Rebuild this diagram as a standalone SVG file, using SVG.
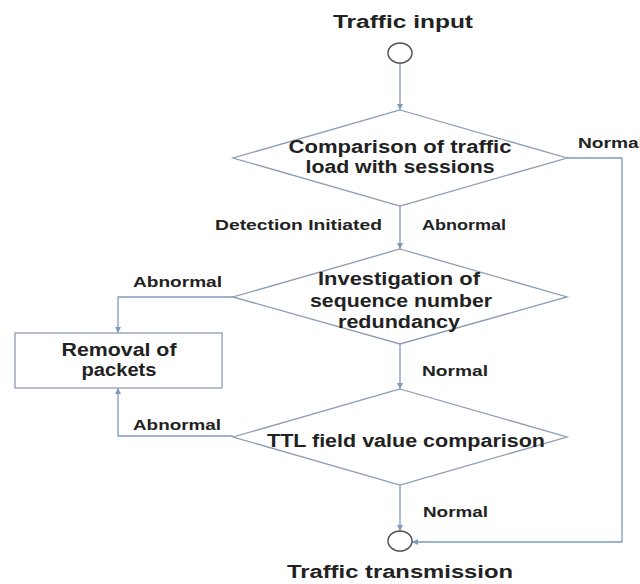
<svg xmlns="http://www.w3.org/2000/svg" width="640" height="584" viewBox="0 0 640 584">
<style>
.t{font-family:"Liberation Sans",Arial,sans-serif;font-weight:bold;fill:#222;}
.big{font-size:18px;text-anchor:middle;}
.lbl{font-size:14px;}
.shape{fill:#fff;stroke:#8c9cb2;stroke-width:1.3;}
.circ{fill:#fff;stroke:#555;stroke-width:1.5;}
.conn{fill:none;stroke:#7f9abd;stroke-width:1.3;}
</style>
<defs>
<marker id="arr" markerWidth="6" markerHeight="6" refX="6" refY="3" orient="auto" markerUnits="userSpaceOnUse">
<path d="M0,0 L6,3 L0,6 z" fill="#7f9abd"/>
</marker>
</defs>
<rect width="640" height="584" fill="#fff"/>
<g id="connectors">
<line class="conn" x1="400" y1="63" x2="400" y2="110" marker-end="url(#arr)"/>
<line class="conn" x1="400" y1="206" x2="400" y2="249" marker-end="url(#arr)"/>
<line class="conn" x1="400" y1="344" x2="400" y2="389" marker-end="url(#arr)"/>
<line class="conn" x1="400" y1="485" x2="400" y2="531" marker-end="url(#arr)"/>
<polyline class="conn" points="233,297 118,297 118,333" marker-end="url(#arr)"/>
<polyline class="conn" points="233,436 118,436 118,388" marker-end="url(#arr)"/>
<polyline class="conn" points="567,158 622,158 622,542 412,542" marker-end="url(#arr)"/>
<text class="t lbl" x="578" y="148" textLength="66" lengthAdjust="spacingAndGlyphs">Normal</text>
<text class="t lbl" x="215" y="230" textLength="167" lengthAdjust="spacingAndGlyphs">Detection Initiated</text>
<text class="t lbl" x="422" y="230" textLength="84" lengthAdjust="spacingAndGlyphs">Abnormal</text>
<text class="t lbl" x="133" y="287" textLength="89" lengthAdjust="spacingAndGlyphs">Abnormal</text>
<text class="t lbl" x="422" y="376" textLength="66" lengthAdjust="spacingAndGlyphs">Normal</text>
<text class="t lbl" x="133" y="430" textLength="88" lengthAdjust="spacingAndGlyphs">Abnormal</text>
<text class="t lbl" x="423" y="517" textLength="65" lengthAdjust="spacingAndGlyphs">Normal</text>
</g>
<g id="start">
<text class="t big" x="403" y="28" textLength="140" lengthAdjust="spacingAndGlyphs">Traffic input</text>
<ellipse class="circ" cx="400" cy="53" rx="12" ry="10"/>
</g>
<g id="compare-load">
<polygon class="shape" points="400,110 567,158 400,206 233,158"/>
<text class="t big" x="400" y="153" textLength="223" lengthAdjust="spacingAndGlyphs">Comparison of traffic</text>
<text class="t big" x="400" y="173" textLength="189" lengthAdjust="spacingAndGlyphs">load with sessions</text>
</g>
<g id="investigate-seq">
<polygon class="shape" points="400,249 567,297 400,344 233,297"/>
<text class="t big" x="399" y="285" textLength="162" lengthAdjust="spacingAndGlyphs">Investigation of</text>
<text class="t big" x="401" y="307" textLength="182" lengthAdjust="spacingAndGlyphs">sequence number</text>
<text class="t big" x="399" y="328" textLength="122" lengthAdjust="spacingAndGlyphs">redundancy</text>
</g>
<g id="removal">
<rect class="shape" x="15" y="333" width="207" height="55"/>
<text class="t big" x="119" y="356" textLength="115" lengthAdjust="spacingAndGlyphs">Removal of</text>
<text class="t big" x="119" y="376" textLength="75" lengthAdjust="spacingAndGlyphs">packets</text>
</g>
<g id="ttl-compare">
<polygon class="shape" points="400,389 567,437 400,485 233,437"/>
<text class="t big" x="406" y="447" textLength="278" lengthAdjust="spacingAndGlyphs">TTL field value comparison</text>
</g>
<g id="end">
<ellipse class="circ" cx="400" cy="541" rx="12" ry="10"/>
<text class="t big" x="400" y="578" textLength="226" lengthAdjust="spacingAndGlyphs">Traffic transmission</text>
</g>
</svg>
